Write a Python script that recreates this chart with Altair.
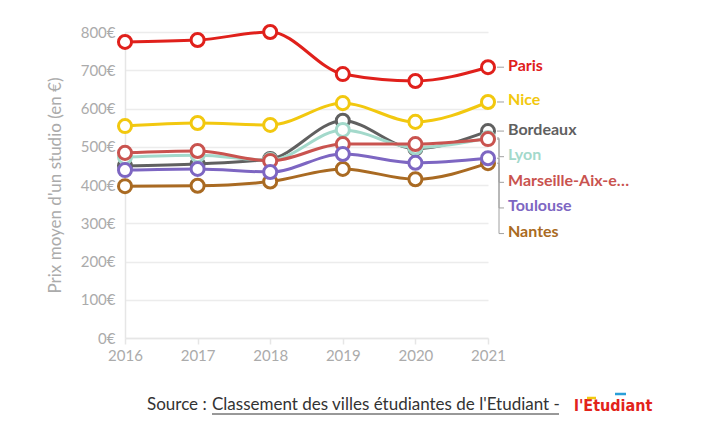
import altair as alt
import pandas as pd

years = [2016, 2017, 2018, 2019, 2020, 2021]
cities = ["Paris", "Nice", "Bordeaux", "Lyon", "Marseille-Aix-en-Provence", "Toulouse", "Nantes"]
paris = [774, 779, 800, 690, 672, 708]
nice = [554, 562, 557, 614, 565, 617]
bordeaux = [450, 455, 468, 568, 495, 541]
lyon = [473, 478, 465, 544, 498, 523]
marseille = [484, 489, 463, 507, 507, 520]
toulouse = [439, 442, 434, 481, 458, 470]
nantes = [397, 398, 409, 442, 415, 457]
colors = ["#e0201b", "#f2c80f", "#606060", "#a3d9cb", "#c9534f", "#7d66c2", "#a96a22"]
y_ticks = [0, 100, 200, 300, 400, 500, 600, 700, 800]

series = dict(zip(cities, [paris, nice, bordeaux, lyon, marseille, toulouse, nantes]))
color_of = dict(zip(cities, colors))

W, H = 363, 306
PX_PER_YEAR = W / (years[-1] - years[0])
FONT = "Lato"
GREY = "#ababab"

# label placement (simple top-down collision avoidance)
gap = 67
label_y = {}
prev = None
for c in cities:
    v = series[c][-1]
    ly = v if prev is None else min(v, prev - gap)
    label_y[c] = ly
    prev = ly

rows = []
for c in cities:
    for yr, v in zip(years, series[c]):
        rows.append({"city": c, "year": yr, "value": v})
df = pd.DataFrame(rows)

conn_rows = []
x0 = years[-1] + 9 / PX_PER_YEAR
xe = years[-1] + 11 / PX_PER_YEAR
x1 = years[-1] + 16 / PX_PER_YEAR
for c in cities:
    v = series[c][-1]
    ly = label_y[c]
    for i, (xx, yy) in enumerate([(x0, v), (xe, v), (xe, ly), (x1, ly)]):
        conn_rows.append({"city": c, "o": i, "year": xx, "value": yy})
conn = pd.DataFrame(conn_rows)

lab = pd.DataFrame({"city": cities, "year": [years[-1]] * len(cities),
                    "value": [label_y[c] for c in cities]})

x_enc = alt.X("year:Q", scale=alt.Scale(domain=[years[0], years[-1]], nice=False, zero=False),
              axis=alt.Axis(values=years, format="d", title=None, grid=False,
                            labelFont=FONT, labelFontSize=15, labelColor=GREY,
                            labelPadding=4, tickColor="#e6e6e6", tickSize=6, tickWidth=1.5,
                            domainColor="#e6e6e6", domainWidth=1.5, labelFlush=False))
y_enc = alt.Y("value:Q", scale=alt.Scale(domain=[0, 800], nice=False),
              axis=alt.Axis(values=y_ticks, labelExpr="datum.value + '€'",
                            title="Prix moyen d'un studio (en €)", titleFont=FONT,
                            titleFontSize=17, titleFontWeight="normal", titleColor=GREY,
                            titlePadding=16, labelFont=FONT, labelFontSize=15,
                            labelColor=GREY, labelPadding=10, ticks=False,
                            grid=True, gridColor="#ececec", gridWidth=1.5,
                            domainColor="#e6e6e6", domainWidth=1.5))

layers = []
# connectors
layers.append(alt.Chart(conn).mark_line(color="#a0a0a0", strokeWidth=1, clip=False).encode(
    x=x_enc, y=y_enc, detail="city:N", order="o:Q"))

draw_order = ["Nantes", "Bordeaux", "Lyon", "Marseille-Aix-en-Provence", "Toulouse", "Nice", "Paris"]
for c in draw_order:
    d = df[df.city == c]
    col = color_of[c]
    layers.append(alt.Chart(d).mark_line(color=col, strokeWidth=3, interpolate="monotone").encode(
        x=x_enc, y=y_enc))
    layers.append(alt.Chart(d).mark_point(shape="circle", fill="white", stroke=col, strokeWidth=3,
                                          size=170, opacity=1).encode(x=x_enc, y=y_enc))

for c in cities:
    d = lab[lab.city == c]
    layers.append(alt.Chart(d).mark_text(align="left", baseline="middle", dx=20, dy=-1.5, font=FONT,
                                         fontSize=16, fontWeight="bold", color=color_of[c],
                                         limit=128, clip=False).encode(
        x=x_enc, y=y_enc, text="city:N"))

# source line
src = pd.DataFrame({"t": ["x"]})
layers.append(alt.Chart(src).mark_text(align="left", baseline="alphabetic", font=FONT, fontSize=17,
                                       color="#333333").encode(
    x=alt.value(22), y=alt.value(378), text=alt.value("Source :")))
layers.append(alt.Chart(src).mark_text(align="left", baseline="alphabetic", font=FONT, fontSize=17,
                                       color="#333333").encode(
    x=alt.value(87), y=alt.value(378), text=alt.value("Classement des villes étudiantes de l'Etudiant -")))
layers.append(alt.Chart(src).mark_rule(color="#333333", strokeWidth=1).encode(
    x=alt.value(87), x2=alt.value(434), y=alt.value(382)))
layers.append(alt.Chart(src).mark_text(align="left", baseline="alphabetic",
                                       font="DejaVu Sans Condensed, Roboto, sans-serif", fontSize=16,
                                       fontWeight="bold", color="#e2231a").encode(
    x=alt.value(449), y=alt.value(379), text=alt.value("l'Etudiant")))
layers.append(alt.Chart(src).mark_rule(color="#f2c80f", strokeWidth=2.5).encode(
    x=alt.value(462), x2=alt.value(471), y=alt.value(366)))
layers.append(alt.Chart(src).mark_rule(color="#2a9fd8", strokeWidth=2.5).encode(
    x=alt.value(490), x2=alt.value(501), y=alt.value(362)))

chart = alt.layer(*layers).properties(
    width=W, height=H,
    autosize=alt.AutoSizeParams(type="none"),
    padding={"left": 117, "top": 24, "right": 200, "bottom": 84},
).configure_view(stroke=None)

chart.save("out.html", embed_options={"renderer": "svg", "actions": False})
